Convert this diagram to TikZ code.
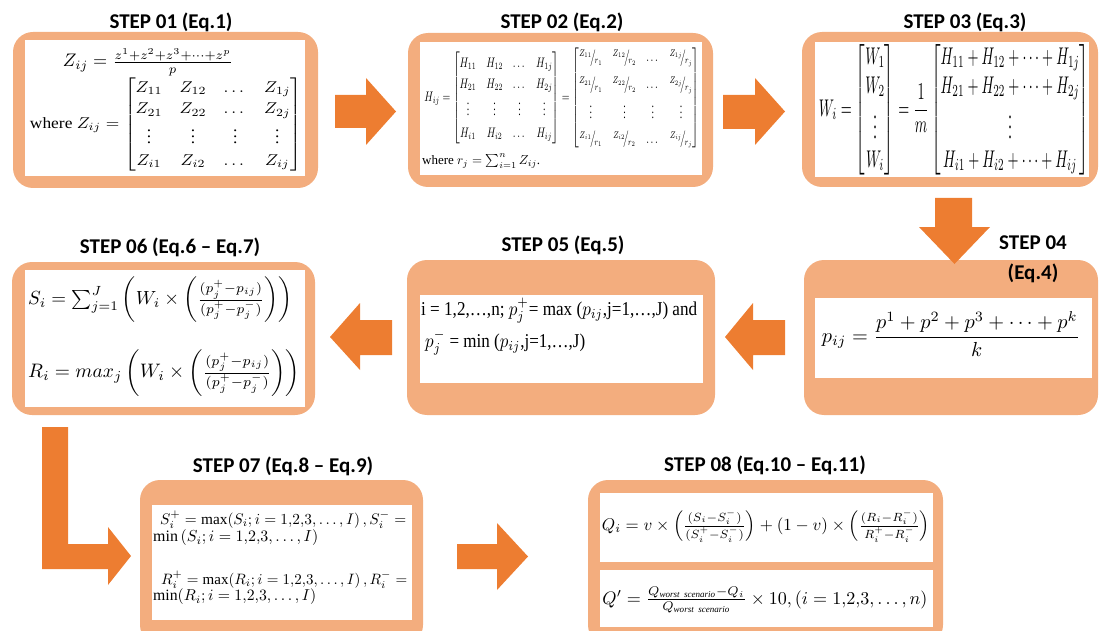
\documentclass[tikz,border=0pt]{standalone}
\usepackage{amsmath,amssymb}
\usepackage{fontspec}
\setmainfont{Liberation Serif}
\newfontfamily\titlefont{Carlito}
\definecolor{arrc}{HTML}{ED7D31}
\definecolor{boxc}{HTML}{F3AD7E}
\newcommand\slf[2]{{}^{#1}\!\big/\!{}_{#2}}
\tikzset{
  obox/.style={fill=boxc, draw=none, rounded corners=20pt, inner sep=0pt},
  wbox/.style={fill=white, draw=none, inner sep=0pt},
  ttl/.style={font=\titlefont\bfseries\fontsize{21}{30}\selectfont, inner sep=0pt, align=center},
  eqn/.style={inner sep=0pt},
  barrow/.style={fill=arrc, draw=none}
}
\begin{document}
\begin{tikzpicture}[x=1pt,y=-1pt]
\useasboundingbox (0,0) rectangle (1100,631);
\clip (0,0) rectangle (1100,631);

% ---------- boxes ----------
\node[obox, minimum width=305pt, minimum height=156pt] (s1) at (165.5,110) {};
\node[wbox, minimum width=280pt, minimum height=136pt] (s1i) at (165,108) {};
\node[obox, minimum width=305pt, minimum height=154pt] (s2) at (560.5,110) {};
\node[wbox, minimum width=282pt, minimum height=133pt] (s2i) at (561,108.5) {};
\node[obox, minimum width=296pt, minimum height=155pt] (s3) at (950,109.5) {};
\node[wbox, minimum width=274pt, minimum height=135pt] (s3i) at (952,109.5) {};
\node[obox, minimum width=294pt, minimum height=155pt] (s4) at (951,337.5) {};
\node[wbox, minimum width=277pt, minimum height=80pt] (s4i) at (953.5,338) {};
\node[obox, minimum width=308pt, minimum height=155pt] (s5) at (561,337.5) {};
\node[wbox, minimum width=283pt, minimum height=88pt] (s5i) at (561.5,339) {};
\node[obox, minimum width=303pt, minimum height=153pt] (s6) at (163.5,338.5) {};
\node[wbox, minimum width=280pt, minimum height=137pt] (s6i) at (165,338.5) {};
\node[obox, minimum width=283pt, minimum height=165pt] (s7) at (281.5,562.5) {};
\node[wbox, minimum width=260pt, minimum height=115pt] (s7i) at (282,562.5) {};
\node[obox, minimum width=355pt, minimum height=165pt] (s8) at (765.5,562.5) {};
\node[wbox, minimum width=333pt, minimum height=69pt] (s8a) at (766.5,527.5) {};
\node[wbox, minimum width=333pt, minimum height=57pt] (s8b) at (766.5,598.5) {};

% ---------- titles ----------
\node[ttl] (t1) at (171,22) {STEP 01 (Eq.1)};
\node[ttl] (t2) at (562,22) {STEP 02 (Eq.2)};
\node[ttl] (t3) at (965,22) {STEP 03 (Eq.3)};
\node[ttl] (t4) at (1033,259) {STEP 04\\(Eq.4)};
\node[ttl] (t5) at (563,245) {STEP 05 (Eq.5)};
\node[ttl] (t6) at (170,247) {STEP 06 (Eq.6 – Eq.7)};
\node[ttl] (t7) at (283,466) {STEP 07 (Eq.8 – Eq.9)};
\node[ttl] (t8) at (765,465) {STEP 08 (Eq.10 – Eq.11)};

% ---------- step 01 ----------
\node[eqn] (e1a) at (148,62) {\resizebox{170pt}{!}{$Z_{ij} = \frac{z^1+z^2+z^3+\dots+z^p}{p}$}};
\node[eqn] (e1b) at (166,124.5) {\resizebox*{272pt}{95pt}{\renewcommand{\arraystretch}{1.15}where $Z_{ij} = \begin{bmatrix} Z_{11} & Z_{12} & \dots & Z_{1j}\\ Z_{21} & Z_{22} & \dots & Z_{2j}\\ \vdots & \vdots & \vdots & \vdots\\ Z_{i1} & Z_{i2} & \dots & Z_{ij}\end{bmatrix}$}};

% ---------- step 02 ----------
\node[eqn] (e2a) at (562,98) {\resizebox*{275pt}{103pt}{\renewcommand{\arraystretch}{1.3}$H_{ij} = \begin{bmatrix} H_{11} & H_{12} & \dots & H_{1j}\\ H_{21} & H_{22} & \dots & H_{2j}\\ \vdots & \vdots & \vdots & \vdots\\ H_{i1} & H_{i2} & \dots & H_{ij}\end{bmatrix} = \begin{bmatrix} \slf{Z_{11}}{r_1} & \slf{Z_{12}}{r_2} & \dots & \slf{Z_{1j}}{r_j}\\[4pt] \slf{Z_{21}}{r_1} & \slf{Z_{22}}{r_2} & \dots & \slf{Z_{2j}}{r_j}\\[2pt] \vdots & \vdots & \vdots & \vdots\\[2pt] \slf{Z_{i1}}{r_1} & \slf{Z_{i2}}{r_2} & \dots & \slf{Z_{ij}}{r_j}\end{bmatrix}$}};
\node[eqn, anchor=west] (e2b) at (422,161) {\resizebox{118pt}{!}{where $r_j = \sum_{i=1}^{n} Z_{ij}$.}};

% ---------- step 03 ----------
\node[eqn] (e3) at (954,110) {\resizebox*{270pt}{132pt}{$W_i = \begin{bmatrix} W_1\\ W_2\\ \vdots\\ W_i\end{bmatrix} = \dfrac{1}{m}\begin{bmatrix} H_{11}+H_{12}+\dots+H_{1j}\\ H_{21}+H_{22}+\dots+H_{2j}\\ \vdots\\ H_{i1}+H_{i2}+\dots+H_{ij}\end{bmatrix}$}};

% ---------- step 04 ----------
\node[eqn] (e4) at (951,334) {\resizebox{258pt}{!}{$\displaystyle p_{ij} = \frac{p^1+p^2+p^3+\cdots+p^k}{k}$}};

% ---------- step 05 ----------
\node[eqn, anchor=west] (e5a) at (421,311) {\resizebox*{276pt}{25pt}{i = 1,2,\dots,n; $p_j^{+}$= max ($p_{ij}$,j=1,\dots,J) and}};
\node[eqn, anchor=west] (e5b) at (425,343) {\resizebox*{160pt}{25pt}{$p_j^{-}$ = min ($p_{ij}$,j=1,\dots,J)}};

% ---------- step 06 ----------
\node[eqn, anchor=west] (e6a) at (28,300) {\resizebox{264pt}{!}{$S_i = \sum_{j=1}^{J}\left( W_i \times \left(\frac{(p_j^{+}-p_{ij})}{(p_j^{+}-p_j^{-})}\right)\right)$}};
\node[eqn, anchor=west] (e6b) at (28,373) {\resizebox{272pt}{!}{$R_i = max_j\left( W_i \times \left(\frac{(p_j^{+}-p_{ij})}{(p_j^{+}-p_j^{-})}\right)\right)$}};

% ---------- step 07 ----------
\node[eqn, anchor=west] (e7a) at (160,520) {\resizebox{246pt}{!}{$S_i^{+} = \max(S_i; i = 1{,}2{,}3, \dots, I)\,, S_i^{-} =$}};
\node[eqn, anchor=west] (e7b) at (153,538) {\resizebox{165pt}{!}{$\min\,(S_i; i = 1{,}2{,}3, \dots, I)$}};
\node[eqn, anchor=west] (e7c) at (161,580) {\resizebox{246pt}{!}{$R_i^{+} = \max(R_i; i = 1{,}2{,}3, \dots, I)\,, R_i^{-} =$}};
\node[eqn, anchor=west] (e7d) at (153,597) {\resizebox{163pt}{!}{$\min(R_i; i = 1{,}2{,}3, \dots, I)$}};

% ---------- step 08 ----------
\node[eqn] (e8a) at (766,526) {\resizebox{328pt}{!}{$Q_i = v \times \left(\frac{(S_i-S_i^{-})}{(S_i^{+}-S_i^{-})}\right) + (1-v)\times\left(\frac{(R_i-R_i^{-})}{R_i^{+}-R_i^{-}}\right)$}};
\node[eqn] (e8b) at (765,600) {\resizebox{325pt}{!}{$Q' = \frac{Q_{\mathit{worst\ scenario}}-Q_i}{Q_{\mathit{worst\ scenario}}} \times 10, (i = 1{,}2{,}3, \dots, n)$}};

% ---------- block arrows ----------
% 01 -> 02
\fill[barrow] (335,95) -- (366,95) -- (366,78) -- (396,111.5) -- (366,145) -- (366,128) -- (335,128) -- cycle;
% 02 -> 03
\fill[barrow] (723,95) -- (755,95) -- (755,78) -- (785,111.5) -- (755,145) -- (755,129) -- (723,129) -- cycle;
% 03 -> 04
\fill[barrow] (935,198) -- (972,198) -- (972,227) -- (990,227) -- (954.5,264) -- (919,227) -- (935,227) -- cycle;
% 04 -> 05
\fill[barrow] (785,320) -- (753,320) -- (753,303) -- (725,337) -- (753,370) -- (753,355) -- (785,355) -- cycle;
% 05 -> 06
\fill[barrow] (392,320) -- (360,320) -- (360,303) -- (330,337) -- (360,370) -- (360,355) -- (392,355) -- cycle;
% 06 -> 07 (L-shaped)
\fill[barrow] (42,427) -- (68,427) -- (68,544) -- (108,544) -- (108,527) -- (131,556) -- (108,585) -- (108,569) -- (42,569) -- cycle;
% 07 -> 08
\fill[barrow] (457,544) -- (497,544) -- (497,523) -- (528,556.5) -- (497,590) -- (497,569) -- (457,569) -- cycle;
\end{tikzpicture}
\end{document}
